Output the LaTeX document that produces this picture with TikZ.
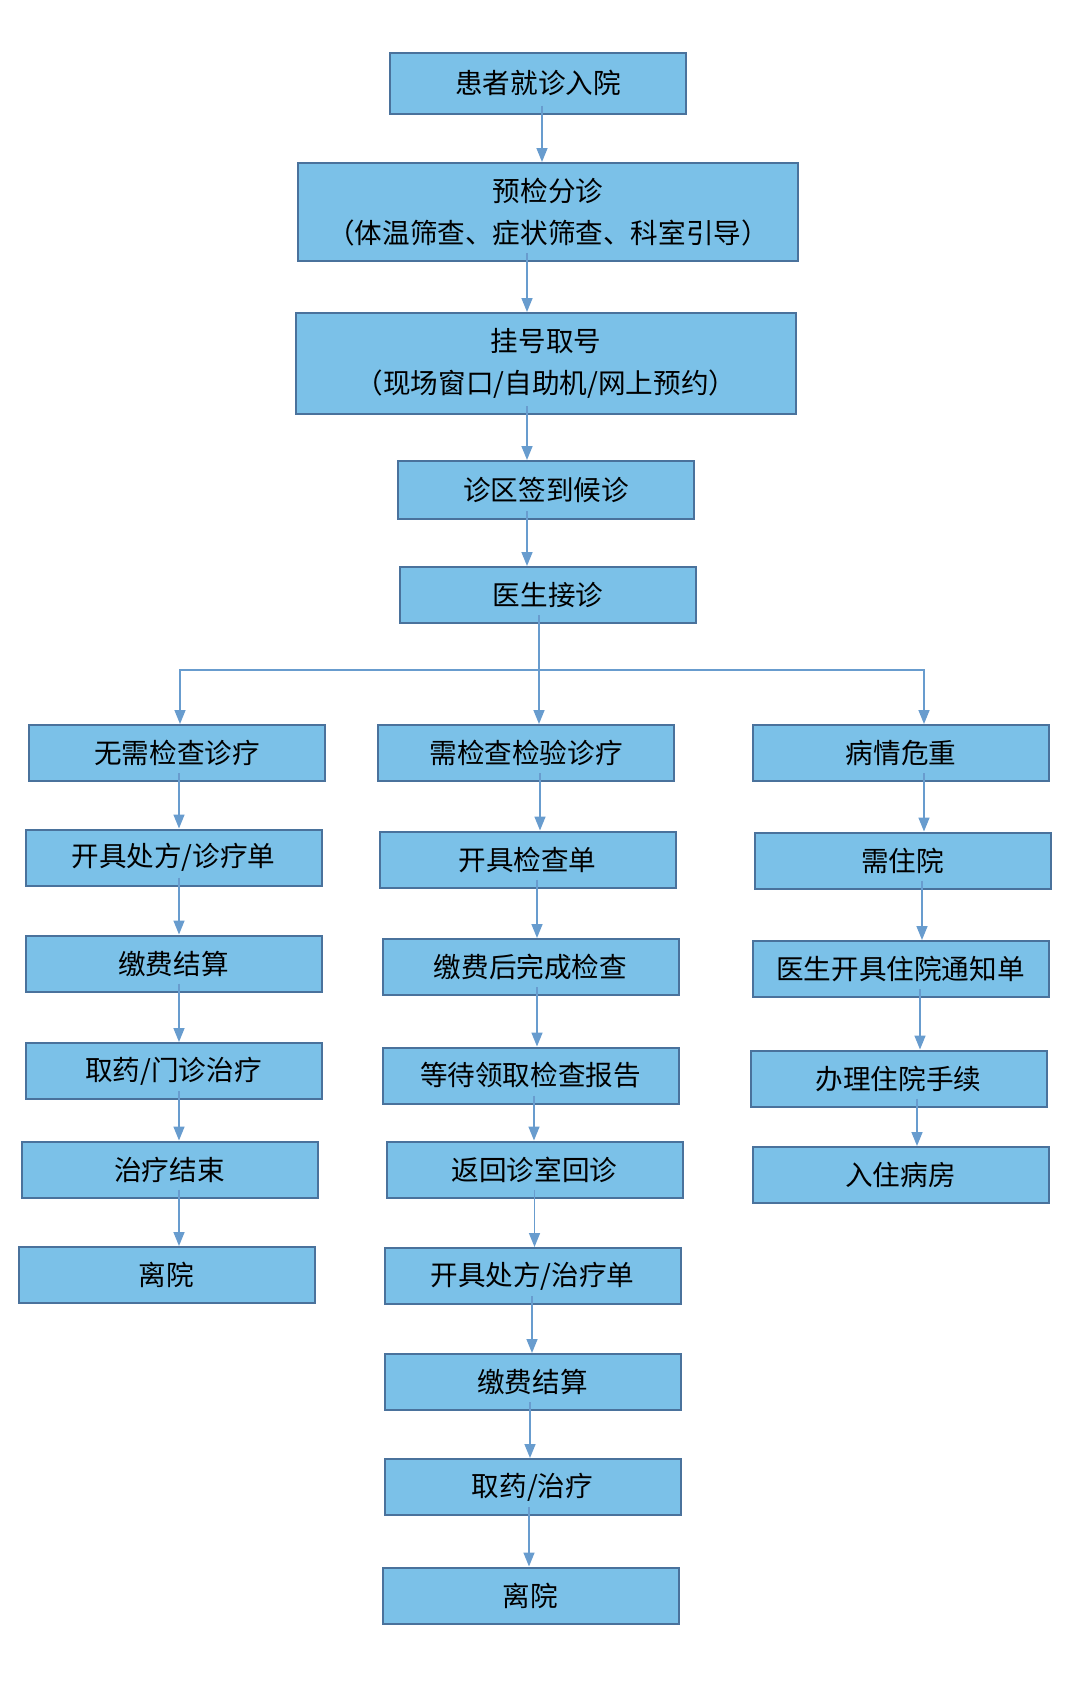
\documentclass[tikz,border=0pt]{standalone}
\usepackage{fontspec}
\setmainfont{Noto Sans CJK SC}
\usetikzlibrary{arrows.meta}
\definecolor{boxfill}{RGB}{123,193,232}
\definecolor{boxedge}{RGB}{74,114,156}
\definecolor{linkblue}{RGB}{104,156,206}
\tikzset{
	stepbox/.style={draw=boxedge, line width=1pt, fill=boxfill, minimum width=148pt, minimum height=28pt, inner sep=0pt, font=\fontsize{13.8}{21}\selectfont, align=center},
	bigbox/.style={stepbox, minimum width=250pt, minimum height=50pt},
	flow/.style={draw=linkblue, line width=0.75pt, -{Triangle[length=7pt,width=5.5pt]}},
	flowline/.style={draw=linkblue, line width=0.75pt}
}
% arrow from inside the lower box edge down to the next box, shifted by #3 px
\def\link(#1)(#2)(#3){\draw[flow] ([xshift=#3*0.5pt,yshift=4.5pt]#1.south) -- ([xshift=#3*0.5pt]#1.south |- #2.north);}

\begin{document}
\begin{tikzpicture}[x=0.5pt,y=-0.5pt]
			%%%%% START %%%%%
			\useasboundingbox (0,0) rectangle (1084,1699);
			
			\node[stepbox, minimum height=30.5pt] (admit) at (538,83) {患者就诊入院};
			\node[bigbox, minimum height=49pt] (triage) at (548,212) {预检分诊\\（体温筛查、症状筛查、科室引导）};
			\node[bigbox, minimum height=50.5pt] (register) at (546,363.5) {挂号取号\\（现场窗口/自助机/网上预约）};
			\node[stepbox, minimum height=29pt] (checkin) at (546,490) {诊区签到候诊};
			\node[stepbox] (doctor) at (548,595) {医生接诊};
			
			\link(admit)(triage)(4)
			\link(triage)(register)(-21)
			\link(register)(checkin)(-19)
			\link(checkin)(doctor)(-19)
			
			% three ways after the doctor
			\node[stepbox] (noexam) at (177,753) {无需检查诊疗};
			\node[stepbox] (exam) at (526,753) {需检查检验诊疗};
			\node[stepbox] (severe) at (901,753) {病情危重};
			
			\coordinate (split) at (539,670);
			\draw[flowline] ([xshift=-4.5pt,yshift=4.5pt]doctor.south) -- (split);
			\draw[flow] (split) -| ([xshift=1.5pt]noexam.north);
			\draw[flow] (split) -- (split |- exam.north);
			\draw[flow] (split) -| ([xshift=11.5pt]severe.north);
			
			% left column
			\node[stepbox] (rx) at (173.5,857.5) {开具处方/诊疗单};
			\node[stepbox] (pay) at (173.5,963.5) {缴费结算};
			\node[stepbox] (drug) at (173.5,1071) {取药/门诊治疗};
			\node[stepbox] (done) at (169.5,1169.5) {治疗结束};
			\node[stepbox] (leave) at (166.5,1275) {离院};
			
			\link(noexam)(rx)(2)
			\link(rx)(pay)(5.5)
			\link(pay)(drug)(5.5)
			\link(drug)(done)(5.5)
			\link(done)(leave)(9.5)
			
			% middle column
			\node[stepbox] (examform) at (527.5,859.5) {开具检查单};
			\node[stepbox] (exampay) at (530.5,967) {缴费后完成检查};
			\node[stepbox] (report) at (530.5,1075.5) {等待领取检查报告};
			\node[stepbox] (revisit) at (534.5,1169.5) {返回诊室回诊};
			\node[stepbox] (rxtwo) at (532.5,1276) {开具处方/治疗单};
			\node[stepbox] (paytwo) at (532.5,1382) {缴费结算};
			\node[stepbox] (drugtwo) at (532.5,1487) {取药/治疗};
			\node[stepbox] (leavetwo) at (530.5,1595.5) {离院};
			
			\link(exam)(examform)(14)
			\link(examform)(exampay)(9.5)
			\link(exampay)(report)(6.5)
			\link(report)(revisit)(3.5)
			\link(revisit)(rxtwo)(0)
			\link(rxtwo)(paytwo)(-0.5)
			\link(paytwo)(drugtwo)(-2.5)
			\link(drugtwo)(leavetwo)(-3.5)
			
			% right column
			\node[stepbox] (ward) at (902.5,860.5) {需住院};
			\node[stepbox] (notice) at (900.5,969) {医生开具住院通知单};
			\node[stepbox] (procedure) at (898.5,1078.5) {办理住院手续};
			\node[stepbox] (room) at (900.5,1175) {入住病房};
			
			\link(severe)(ward)(23)
			\link(ward)(notice)(19.5)
			\link(notice)(procedure)(19.5)
			\link(procedure)(room)(18.5)
			
			%%%%% END %%%%%
\end{tikzpicture}
\end{document}
